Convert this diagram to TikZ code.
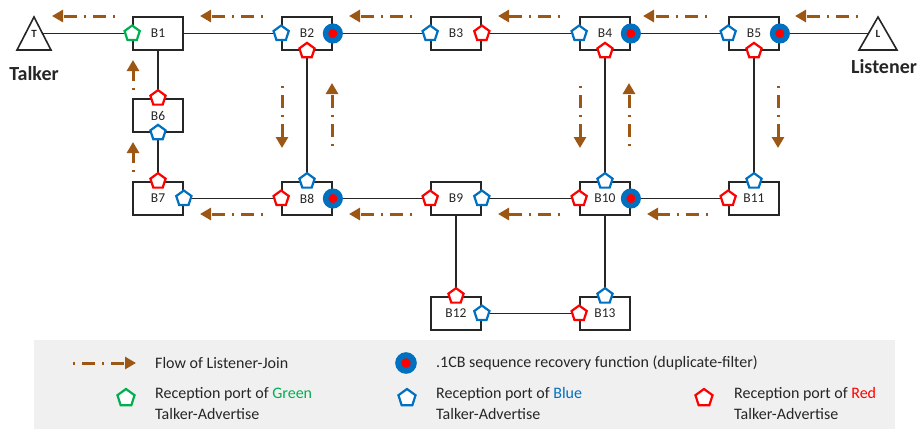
\documentclass[tikz,border=0pt]{standalone}
\usepackage{fontspec}
\setmainfont{Carlito}
\usetikzlibrary{shapes.geometric,arrows.meta}
\definecolor{flow}{RGB}{156,87,20}
\definecolor{pgreen}{RGB}{0,176,80}
\definecolor{pblue}{RGB}{0,112,192}
\definecolor{pred}{RGB}{255,0,0}
\definecolor{ink}{RGB}{38,38,38}
\definecolor{legbg}{RGB}{240,240,240}
\begin{document}
\begin{tikzpicture}[x=1pt,y=-1pt,
  bridge/.style={draw=ink,line width=1.7pt,fill=white,minimum width=50pt,minimum height=33pt,inner sep=0pt,font=\fontsize{13.5}{14}\selectfont,text=ink},
  link/.style={draw=ink,line width=1.6pt},
  port/.style={regular polygon,regular polygon sides=5,inner sep=0pt,minimum size=16pt,line width=2.2pt,fill=white},
  gport/.style={port,draw=pgreen},
  bport/.style={port,draw=pblue},
  rport/.style={port,draw=pred},
  dup/.style={circle,fill=pred,draw=pblue,line width=5.5pt,minimum size=14.5pt,inner sep=0pt},
  flowarrow/.style={draw=flow,line width=3pt,dash pattern=on 2pt off 7pt on 13pt off 7pt,-{Triangle[length=11pt,width=12pt]}},
  legtext/.style={anchor=west,inner sep=0pt,text=ink,align=left,font=\fontsize{16}{20.5}\selectfont},
  endlabel/.style={text=ink,inner sep=0pt,font=\bfseries\fontsize{20}{22}\selectfont},
  trilabel/.style={text=ink,inner sep=0pt,font=\bfseries\fontsize{11}{12}\selectfont}
]
\useasboundingbox (0,0) rectangle (922,429);
% legend background
\fill[legbg] (34,340) rectangle (895,429);

% talker / listener triangles
\draw[link,fill=white,line join=miter] (34,17) -- (51,50) -- (17,50) -- cycle;
\draw[link,fill=white,line join=miter] (878,17) -- (897,50) -- (859,50) -- cycle;
\node[trilabel] (Tl) at (34,34) {T};
\node[trilabel] (Ll) at (878,34) {L};
\coordinate (Tp) at (42.5,33.5);
\coordinate (Lp) at (868.5,33.5);
\node[endlabel] (talker) at (34,73.5) {Talker};
\node[endlabel] (listener) at (884,67) {Listener};

% bridges
\node[bridge] (B1) at (158,33.5) {B1};
\node[bridge] (B2) at (307,33.5) {B2};
\node[bridge] (B3) at (456,33.5) {B3};
\node[bridge] (B4) at (605,33.5) {B4};
\node[bridge] (B5) at (754,33.5) {B5};
\node[bridge] (B6) at (158,115.5) {B6};
\node[bridge] (B7) at (158,198.5) {B7};
\node[bridge] (B8) at (307,198.5) {B8};
\node[bridge] (B9) at (456,198.5) {B9};
\node[bridge] (B10) at (605,198.5) {B10};
\node[bridge] (B11) at (754,198.5) {B11};
\node[bridge] (B12) at (456,313.5) {B12};
\node[bridge] (B13) at (605,313.5) {B13};

% links
\draw[link] (Tp) -- (B1);
\draw[link] (B1) -- (B2);
\draw[link] (B2) -- (B3);
\draw[link] (B3) -- (B4);
\draw[link] (B4) -- (B5);
\draw[link] (B5) -- (Lp);
\draw[link] (B1) -- (B6);
\draw[link] (B6) -- (B7);
\draw[link] (B2) -- (B8);
\draw[link] (B4) -- (B10);
\draw[link] (B5) -- (B11);
\draw[link] (B7) -- (B8);
\draw[link] (B8) -- (B9);
\draw[link] (B9) -- (B10);
\draw[link] (B10) -- (B11);
\draw[link] (B9) -- (B12);
\draw[link] (B10) -- (B13);
\draw[link] (B12) -- (B13);

% ports
\node[gport] (p1w) at (B1.west) {};
\node[bport] (p2w) at (B2.west) {};
\node[rport] (p2s) at (B2.south) {};
\node[dup] (d2) at (B2.east) {};
\node[bport] (p3w) at (B3.west) {};
\node[rport] (p3e) at (B3.east) {};
\node[bport] (p4w) at (B4.west) {};
\node[rport] (p4s) at (B4.south) {};
\node[dup] (d4) at (B4.east) {};
\node[bport] (p5w) at (B5.west) {};
\node[rport] (p5s) at (B5.south) {};
\node[dup] (d5) at (B5.east) {};
\node[rport] (p6n) at (B6.north) {};
\node[bport] (p6s) at (B6.south) {};
\node[rport] (p7n) at (B7.north) {};
\node[bport] (p7e) at (B7.east) {};
\node[bport] (p8n) at (B8.north) {};
\node[rport] (p8w) at (B8.west) {};
\node[dup] (d8) at (B8.east) {};
\node[rport] (p9w) at (B9.west) {};
\node[bport] (p9e) at (B9.east) {};
\node[bport] (p10n) at (B10.north) {};
\node[rport] (p10w) at (B10.west) {};
\node[dup] (d10) at (B10.east) {};
\node[bport] (p11n) at (B11.north) {};
\node[rport] (p11w) at (B11.west) {};
\node[rport] (p12n) at (B12.north) {};
\node[bport] (p12e) at (B12.east) {};
\node[bport] (p13n) at (B13.north) {};
\node[rport] (p13w) at (B13.west) {};

% listener-join flow
\draw[flowarrow] (115,16) -- (52,16);
\draw[flowarrow] (263,16) -- (200,16);
\draw[flowarrow] (412,16) -- (349,16);
\draw[flowarrow] (560,16) -- (498,16);
\draw[flowarrow] (707,16) -- (643,16);
\draw[flowarrow] (858,16) -- (795,16);
\draw[flowarrow] (263,214) -- (200,214);
\draw[flowarrow] (412,214) -- (349,214);
\draw[flowarrow] (560,214) -- (498,214);
\draw[flowarrow] (708,214) -- (647,214);
\draw[flowarrow] (133,90) -- (133,60);
\draw[flowarrow] (133,172) -- (133,142);
\draw[flowarrow] (282,86) -- (282,148);
\draw[flowarrow] (332,146) -- (332,83);
\draw[flowarrow] (580,86) -- (580,148);
\draw[flowarrow] (629,146) -- (629,83);
\draw[flowarrow] (778,86) -- (778,148);

% legend
\coordinate (lf1) at (73,363);
\coordinate (lf2) at (136,363);
\draw[flowarrow] (lf1) -- (lf2);
\node[legtext] (lt1) at (155,363) {Flow of Listener-Join};
\node[dup,minimum size=15.5pt,line width=6pt] (ld) at (406,363) {};
\node[legtext] (lt2) at (436,363) {.1CB sequence recovery function (duplicate-filter)};
\node[gport,minimum size=18pt] (lg) at (126,398) {};
\node[legtext] (lt3) at (155,403.5) {Reception port of \textcolor{pgreen}{Green}\\Talker-Advertise};
\node[bport,minimum size=18pt] (lb) at (407,398) {};
\node[legtext] (lt4) at (436,403.5) {Reception port of \textcolor{pblue}{Blue}\\Talker-Advertise};
\node[rport,minimum size=18pt] (lr) at (704,398) {};
\node[legtext] (lt5) at (734,403.5) {Reception port of \textcolor{pred}{Red}\\Talker-Advertise};
\end{tikzpicture}
\end{document}
